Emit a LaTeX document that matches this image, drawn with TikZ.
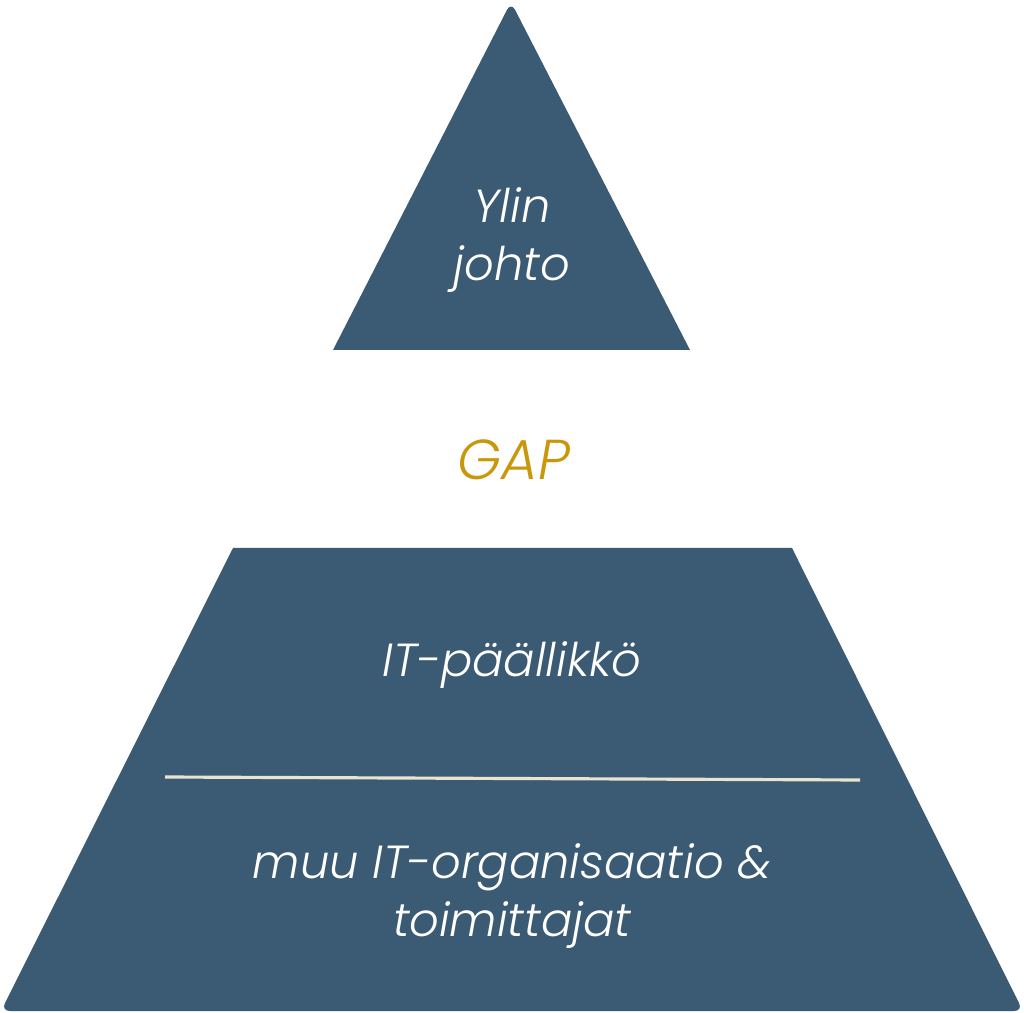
\documentclass[tikz,border=0pt]{standalone}
\usepackage{fontspec}
\setmainfont{Poppins}[UprightFont=*-Light,ItalicFont=*-Light Italic]
\definecolor{pyrblue}{HTML}{3B5B75}
\definecolor{gapgold}{HTML}{C9970A}
\definecolor{lineback}{HTML}{E8E4CE}
\begin{document}
\begin{tikzpicture}[x=0.1mm,y=-0.1mm,
    label/.style={text=white,align=center,font=\fontsize{13.2}{16.5}\selectfont\itshape},
    band/.style={fill=pyrblue,draw=none}]
    \useasboundingbox (0,0) rectangle (1024,1013);

    \fill[band] (690,350) -- (333,350) [rounded corners=2.5] -- (511,2) [sharp corners] -- cycle;
    \fill[band] (233,548) -- (792,548) [rounded corners=2.5] -- (1023,1011) -- (1,1011) [sharp corners] -- cycle;

    \coordinate (L1) at (165,777);
    \coordinate (L2) at (860,780);
    \draw[lineback,line width=0.9pt] (L1) -- (L2);

    \node[label] (top) at (512,240) {Ylin\\johto};
    \node[label,text=gapgold,font=\fontsize{16}{18}\selectfont\itshape] (gap) at (514,460) {GAP};
    \node[label] (mid) at (512,665) {IT-päällikkö};
    \node[label] (bot) at (512,896) {muu IT-organisaatio \&\\toimittajat};
\end{tikzpicture}
\end{document}
